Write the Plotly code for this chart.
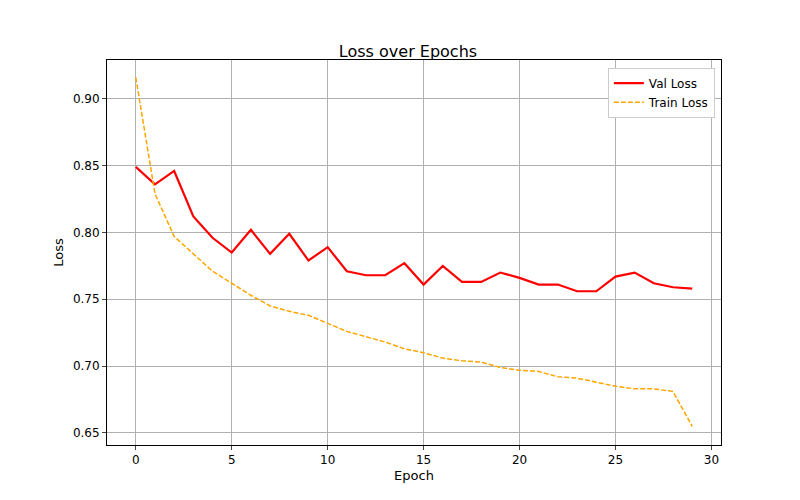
import plotly.graph_objects as go

# Loss values
epochs = list(range(30))
val_loss = [0.849, 0.836, 0.846, 0.812, 0.796, 0.785, 0.802, 0.784, 0.799, 0.779,
            0.789, 0.771, 0.768, 0.768, 0.777, 0.761, 0.775, 0.763, 0.763, 0.770,
            0.766, 0.761, 0.761, 0.756, 0.756, 0.767, 0.770, 0.762, 0.759, 0.758]
train_loss = [0.916, 0.829, 0.797, 0.784, 0.771, 0.762, 0.753, 0.745, 0.741, 0.738,
              0.732, 0.726, 0.722, 0.718, 0.713, 0.710, 0.706, 0.704, 0.703, 0.699,
              0.697, 0.696, 0.692, 0.691, 0.688, 0.685, 0.683, 0.683, 0.681, 0.655]

fig = go.Figure()
fig.add_trace(go.Scatter(x=epochs, y=val_loss, mode="lines", name="Val Loss",
                         line=dict(color="red", width=2.2)))
fig.add_trace(go.Scatter(x=epochs, y=train_loss, mode="lines", name="Train Loss",
                         line=dict(color="orange", width=1.5, dash="5px,2px")))

axis_style = dict(showgrid=True, gridcolor="#b0b0b0", gridwidth=1, showline=True,
                  linecolor="black", mirror=True, ticks="outside", ticklen=4,
                  zeroline=False, tickfont=dict(size=12, color="black"))

fig.update_layout(
    width=800, height=500,
    font=dict(family="DejaVu Sans", color="black"),
    title=dict(text="Loss over Epochs", x=0.5, xanchor="center", y=0.925, font=dict(size=16)),
    plot_bgcolor="white", paper_bgcolor="white",
    margin=dict(l=99, r=87, t=52, b=63),
    xaxis=dict(title=dict(text="Epoch", standoff=4, font=dict(size=13)), range=[-1.5, 30.5],
               tickvals=[0, 5, 10, 15, 20, 25, 30], **axis_style),
    yaxis=dict(title=dict(text="Loss", standoff=6, font=dict(size=13)), range=[0.641, 0.929],
               tickvals=[0.65, 0.70, 0.75, 0.80, 0.85, 0.90], tickformat=".2f", **axis_style),
    legend=dict(x=0.99, y=0.98, xanchor="right", yanchor="top", bgcolor="white",
                bordercolor="#cccccc", borderwidth=1, font=dict(size=12),
                tracegroupgap=0),
)

fig.write_html("out.html")
